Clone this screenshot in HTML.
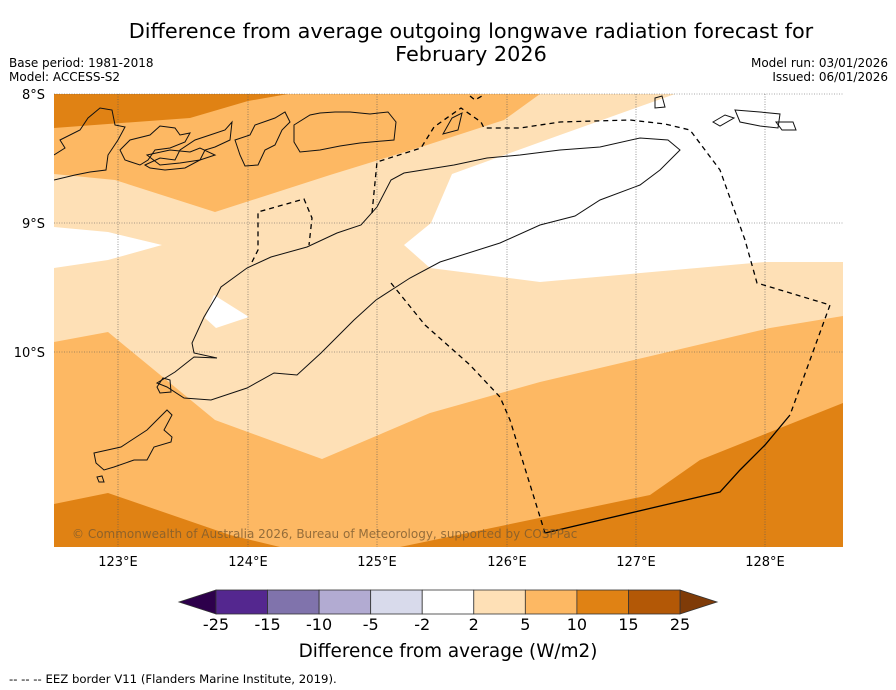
<!DOCTYPE html>
<html><head><meta charset="utf-8"><style>
body{margin:0;background:#fff;font-family:"DejaVu Sans","Liberation Sans",sans-serif}
#wrap{position:relative;width:896px;height:690px;overflow:hidden}
.t{position:absolute;color:#000;white-space:nowrap}
</style></head><body>
<div id="wrap">
<div class="t" style="left:0;width:942px;top:20px;text-align:center;font-size:20.8px;line-height:23px">Difference from average outgoing longwave radiation forecast for<br>February 2026</div>
<div class="t" style="left:9px;top:56px;font-size:12px">Base period: 1981-2018</div>
<div class="t" style="left:9px;top:70px;font-size:12px">Model: ACCESS-S2</div>
<div class="t" style="right:8px;top:56px;font-size:12px;text-align:right">Model run: 03/01/2026</div>
<div class="t" style="right:8px;top:70px;font-size:12px;text-align:right">Issued: 06/01/2026</div>
<svg id="map" width="896" height="690" style="position:absolute;left:0;top:0">
<defs><clipPath id="c"><rect x="54" y="94" width="789" height="453"/></clipPath></defs>
<g clip-path="url(#c)">
<rect x="54" y="94" width="789" height="453" fill="#fee0b6"/>
<polygon fill="#fdb863" points="54,94 540,94 504,120 421,147 330,175 215,212 115,180 54,174"/>
<polygon fill="#e08214" points="54,94 288,94 248,101 190,118 54,128"/>
<polygon fill="#ffffff" points="675,94 843,94 843,262 765,262 540,282 430,268 404,245 431,223 452,174 560,135"/>
<polygon fill="#ffffff" points="54,227 108,232 162,245 108,260 54,268"/>
<polygon fill="#ffffff" points="214,295 249,317 216,328 205,318"/>
<polygon fill="#fdb863" points="54,342 108,332 215,420 322,459 430,413 540,382 770,328 843,316 843,547 54,547"/>
<polygon fill="#e08214" points="54,504 108,493 230,535 280,547 54,547"/>
<polygon fill="#e08214" points="400,547 650,495 700,460 843,403 843,547"/>
</g>
<g stroke="#555" stroke-width="0.6" stroke-dasharray="1,1.5">
<line x1="118" y1="94" x2="118" y2="547"/><line x1="248" y1="94" x2="248" y2="547"/><line x1="377" y1="94" x2="377" y2="547"/><line x1="507" y1="94" x2="507" y2="547"/><line x1="636" y1="94" x2="636" y2="547"/><line x1="765" y1="94" x2="765" y2="547"/>
<line x1="54" y1="94" x2="843" y2="94"/><line x1="54" y1="223" x2="843" y2="223"/><line x1="54" y1="352" x2="843" y2="352"/>
</g>
<g fill="none" stroke="#111" stroke-width="1" clip-path="url(#c)">
<path d="M204,317 L217,295 221,287 247,268 271,257 307,247 337,233 361,225 377,207 391,180 404,173 454,165 487,158 520,155 560,150 600,147 640,138 668,140 680,150 660,170 640,185 600,200 575,216 540,225 500,243 440,262 410,278 376,300 354,320 321,353 297,375 274,373 247,388 211,400 184,398 167,387 157,383 175,372 194,357 217,358 194,353 192,343 204,317Z"/>
<path d="M54,155 L65,148 60,140 80,130 88,118 100,108 112,110 115,125 125,127 118,140 108,155 106,170 90,172 75,175 54,180"/>
<path d="M120,150 L130,140 150,135 160,126 175,128 180,135 190,133 185,142 170,148 155,150 148,160 140,165 125,160Z"/>
<path d="M145,165 L160,158 175,160 180,150 195,140 210,135 225,130 232,122 230,140 215,147 205,150 200,160 185,168 165,170 150,168Z"/>
<path d="M147,155 L170,150 190,152 200,148 215,155 200,160 180,163 160,165Z"/>
<path d="M235,140 L250,135 255,125 275,118 285,112 290,122 282,130 275,145 265,150 258,165 245,166 240,155Z"/>
<path d="M294,125 L310,115 320,113 335,112 350,112 370,114 388,112 396,122 394,140 360,143 340,146 320,150 300,152 294,142Z"/>
<path d="M443,134 L452,118 462,113 458,130Z"/>
<path d="M655,98 L662,96 665,107 655,108Z"/>
<path d="M713,122 L725,115 734,118 720,126Z"/>
<path d="M735,110 L760,112 780,114 778,128 760,126 740,122Z"/>
<path d="M776,122 L793,122 796,130 782,130Z"/>
<path d="M94,453 L121,447 147,430 167,410 172,415 164,430 172,437 171,442 154,447 147,460 134,460 114,467 104,470 96,463Z"/>
<path d="M157,387 L163,378 170,380 171,392 160,393Z"/>
<path d="M97,477 L102,476 104,482 99,482Z"/>
</g>
<g fill="none" stroke="#000" stroke-width="1.3" clip-path="url(#c)">
<path stroke-dasharray="5,4" d="M252,262 L258,250 258,212 304,199 312,218 309,245"/>
<path stroke-dasharray="5,4" d="M372,213 L377,162 421,148 434,127 461,108 481,122 484,128 520,128 560,122 630,120 665,124 690,130 720,170 745,240 757,283 830,305 790,415"/>
<path stroke-dasharray="5,4" d="M391,283 L425,325 470,365 500,397 510,420 545,533"/>
<path d="M545,533 L720,492 740,470 765,445 790,415"/>
<path stroke-dasharray="5,4" d="M470,96 L475,100 482,96"/>
</g>
<text x="72" y="538" font-size="12" fill="#7a5a30" fill-opacity="0.8" font-family="DejaVu Sans,Liberation Sans,sans-serif">© Commonwealth of Australia 2026, Bureau of Meteorology, supported by COSPPac</text>
<g font-size="13" text-anchor="end" font-family="DejaVu Sans,Liberation Sans,sans-serif">
<text x="45" y="99">8°S</text><text x="45" y="228">9°S</text><text x="45" y="357">10°S</text></g>
<g font-size="13" text-anchor="middle" font-family="DejaVu Sans,Liberation Sans,sans-serif">
<text x="118" y="566">123°E</text><text x="248" y="566">124°E</text><text x="377" y="566">125°E</text><text x="507" y="566">126°E</text><text x="636" y="566">127°E</text><text x="765" y="566">128°E</text></g>
<g id="cbar"></g>
<text x="448" y="657" font-size="18.4" text-anchor="middle" font-family="DejaVu Sans,Liberation Sans,sans-serif">Difference from average (W/m2)</text>
<text x="9" y="683" font-size="11.7" font-family="DejaVu Sans,Liberation Sans,sans-serif">--  --  -- EEZ border V11 (Flanders Marine Institute, 2019).</text>
</svg>
</div>
<script>
const levels=["-25","-15","-10","-5","-2","2","5","10","15","25"];
const binColors=["#54278f","#8073ac","#b2abd2","#d8daeb","#ffffff","#fee0b6","#fdb863","#e08214","#b35806"];
const extColors=["#2d004b","#7f3b08"];
const NS="http://www.w3.org/2000/svg";
const g=document.getElementById('cbar');
const x0=216,x1=680,y=590,h=24,tri=37;
const w=(x1-x0)/binColors.length;
function mk(t,a){const e=document.createElementNS(NS,t);for(const k in a)e.setAttribute(k,a[k]);g.appendChild(e);return e;}
const lt=mk('polygon',{points:`${x0},${y} ${x0-tri},${y+h/2} ${x0},${y+h}`,fill:extColors[0],stroke:'#333','stroke-width':0.8});


const rt=mk('polygon',{points:`${x1},${y} ${x1+tri},${y+h/2} ${x1},${y+h}`,fill:extColors[1],stroke:'#333','stroke-width':0.8});


binColors.forEach((c,i)=>{
const r=mk('rect',{x:x0+i*w,y:y,width:w,height:h,fill:c,stroke:'#333','stroke-width':0.8});


});
levels.forEach((l,i)=>{
const t=mk('text',{x:x0+i*w,y:630,'font-size':16,'text-anchor':'middle','font-family':'DejaVu Sans,Liberation Sans,sans-serif'});
t.textContent=l;


});
</script>
</body></html>
